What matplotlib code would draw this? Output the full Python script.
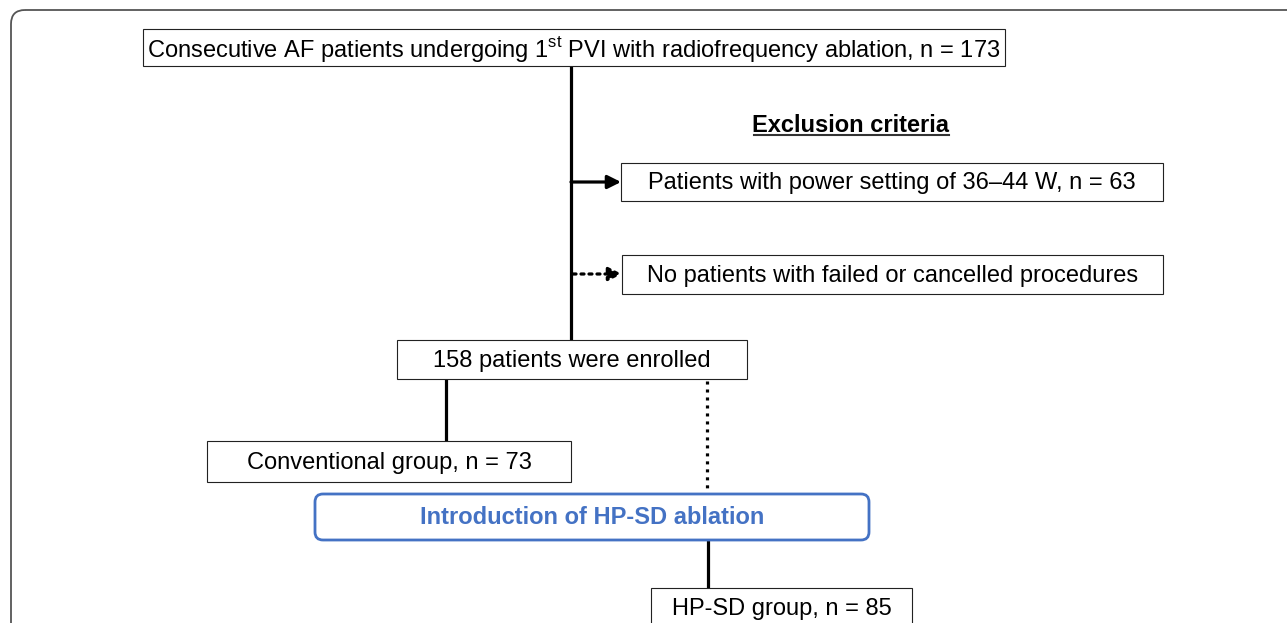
import numpy as np
import matplotlib
matplotlib.use('Agg')
import matplotlib.pyplot as plt
from matplotlib.patches import FancyBboxPatch, Rectangle

plt.rcParams['font.family'] = ['Liberation Sans', 'DejaVu Sans']
plt.rcParams['mathtext.fontset'] = 'custom'
plt.rcParams['mathtext.rm'] = 'Liberation Sans'

# textos / dados do fluxograma
n_total = 173
n_excl_power = 63
n_enrolled = 158
n_conv = 73
n_hpsd = 85

textos = [
    "Consecutive AF patients undergoing 1$^{\\mathrm{st}}$ PVI with radiofrequency ablation, n = %d" % n_total,
    "Patients with power setting of 36\u201344 W, n = %d" % n_excl_power,
    "No patients with failed or cancelled procedures",
    "%d patients were enrolled" % n_enrolled,
    "Conventional group, n = %d" % n_conv,
    "HP-SD group, n = %d" % n_hpsd,
]
titulo_exclusao = "Exclusion criteria"
texto_intro = "Introduction of HP-SD ablation"

# caixas (x0, y0, x1, y1) em pixels
caixas = [
    (143, 29, 1005, 66),
    (621, 163, 1163, 201),
    (622, 255, 1163, 294),
    (397, 340, 747, 379),
    (207, 441, 571, 482),
    (651, 588, 912, 640),
]

W, H = 1287, 623
fig = plt.figure(figsize=(W / 100, H / 100), dpi=100)
ax = fig.add_axes([0, 0, 1, 1])
ax.set_xlim(0, W)
ax.set_ylim(H, 0)
ax.axis('off')

fs = 17

# moldura externa
moldura = FancyBboxPatch((11, 10), 1400, 700, boxstyle="round,pad=0,rounding_size=14",
                         fc='none', ec='#555555', lw=1.3)
ax.add_patch(moldura)

for (x0, y0, x1, y1), t in zip(caixas, textos):
    ax.add_patch(Rectangle((x0, y0), x1 - x0, y1 - y0, fc='white', ec='#222222', lw=0.8, zorder=2))
    yc = (y0 + min(y1, y0 + 40)) / 2 + 1.5
    ax.text((x0 + x1) / 2, yc, t, ha='center', va='center', fontsize=fs, zorder=3)

# titulo exclusao (sublinhado)
ax.text(851, 125, titulo_exclusao, ha='center', va='center', fontsize=fs, fontweight='bold')
ax.plot([754, 949], [135, 135], color='#333333', lw=1.5)

# linhas
lw = 2.3
dots = (0, (0.95, 1.55))
ax.plot([571, 571], [66, 340], color='black', lw=lw, zorder=1)
ax.annotate('', xy=(621, 182), xytext=(571, 182),
            arrowprops=dict(arrowstyle='-|>', color='black', lw=lw, mutation_scale=20, shrinkA=0, shrinkB=0))
ax.annotate('', xy=(622, 274), xytext=(573, 274),
            arrowprops=dict(arrowstyle='-|>', color='black', lw=lw, linestyle=dots,
                            mutation_scale=20, shrinkA=0, shrinkB=0))
ax.plot([446, 446], [379, 441], color='black', lw=lw, zorder=1)
ax.plot([707, 707], [381, 494], color='black', lw=lw, linestyle=dots, zorder=1)
ax.plot([708, 708], [540, 588], color='black', lw=lw, zorder=1)

# caixa azul
azul = '#4472C4'
ax.add_patch(FancyBboxPatch((315, 494), 554, 46, boxstyle="round,pad=0,rounding_size=8",
                            fc='white', ec=azul, lw=2, zorder=2))
ax.text(592, 518, texto_intro, ha='center', va='center', fontsize=fs,
        fontweight='bold', color=azul, zorder=3)

fig.savefig('out.png', dpi=100)
